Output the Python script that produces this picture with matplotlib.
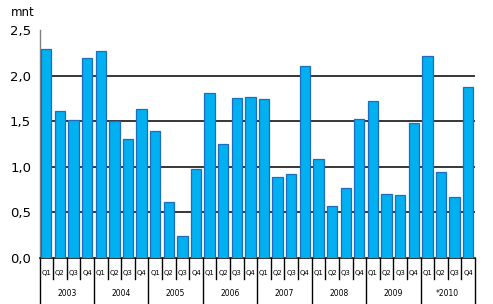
import matplotlib
matplotlib.use("Agg")
import matplotlib.pyplot as plt
from matplotlib.transforms import blended_transform_factory

years = ["2003", "2004", "2005", "2006", "2007", "2008", "2009", "*2010"]
quarters = ["Q1", "Q2", "Q3", "Q4"]
values = [2.30, 1.61, 1.51, 2.20,
          2.27, 1.50, 1.31, 1.64,
          1.39, 0.61, 0.24, 0.97,
          1.81, 1.25, 1.76, 1.77,
          1.75, 0.885, 0.92, 2.11,
          1.08, 0.57, 0.76, 1.53,
          1.72, 0.70, 0.69, 1.48,
          2.22, 0.94, 0.67, 1.88]
yticks = [0.0, 0.5, 1.0, 1.5, 2.0, 2.5]

fig = plt.figure(figsize=(4.93, 3.04), dpi=100)
ax = fig.add_axes([39.5/493, 1-257.5/304, (475-39.5)/493, (257.5-30.5)/304])

n = len(values)
x = list(range(n))
ax.bar(x, values, width=0.76, color="#00B0F0", edgecolor="#1F6DBE", linewidth=0.9, zorder=3)

ax.set_xlim(-0.5, n - 0.5)
ax.set_ylim(0, 2.5)
ax.set_yticks(yticks)
ax.set_yticklabels([f"{v:.1f}".replace(".", ",") for v in yticks], fontsize=9.5)
ax.tick_params(axis="y", length=0, pad=6)
ax.set_xticks([])
for y in yticks[1:]:
    ax.axhline(y, color="black", linewidth=1.1, zorder=1)

for s in ["top", "right"]:
    ax.spines[s].set_visible(False)
ax.spines["left"].set_color("#808080")
ax.spines["left"].set_linewidth(1.0)
ax.spines["bottom"].set_color("black")
ax.spines["bottom"].set_linewidth(1.1)

trans = blended_transform_factory(ax.transData, ax.transAxes)
h_px = 257.5 - 30.5
q_len = 21 / h_px
y_len = 47 / h_px
for i in range(n + 1):
    xp = i - 0.5
    if i % 4 == 0:
        ax.plot([xp, xp], [0, -y_len], transform=trans, color="black", lw=1.0, clip_on=False)
    else:
        ax.plot([xp, xp], [0, -q_len], transform=trans, color="black", lw=1.0, clip_on=False)
for i in range(n):
    ax.text(i, -15.5 / h_px, quarters[i % 4], transform=trans, ha="center", va="center", fontsize=5)
for j, yr in enumerate(years):
    ax.text(4 * j + 1.5, -36 / h_px, yr, transform=trans, ha="center", va="center", fontsize=5.5)

fig.text(11/493, 1 - 13/304, "mnt", fontsize=8.5, ha="left", va="center")

fig.savefig("out.png", dpi=100)
